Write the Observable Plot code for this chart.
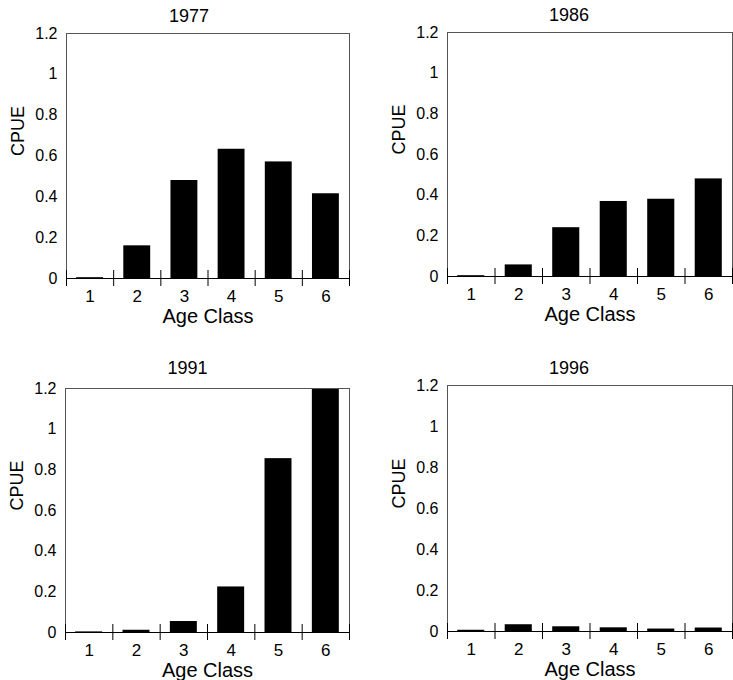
<!DOCTYPE html>
<html>
<head>
<meta charset="utf-8">
<script src="https://cdn.jsdelivr.net/npm/d3@7"></script>
<script src="https://cdn.jsdelivr.net/npm/@observablehq/plot@0.6"></script>
<style>
  body { margin: 0; background: #fff; }
  #chart { position: relative; width: 733px; height: 680px; font-family: "Liberation Sans", Arial, sans-serif; }
  #chart > .panel { position: absolute; }
</style>
</head>
<body>
<div id="chart"></div>
<script>
// ---- data ----
const ages = [1, 2, 3, 4, 5, 6];
const years = ["1977", "1986", "1991", "1996"];
const cpue1977 = [0.004, 0.16, 0.48, 0.633, 0.571, 0.415];
const cpue1986 = [0.004, 0.057, 0.24, 0.369, 0.38, 0.48];
const cpue1991 = [0.003, 0.011, 0.054, 0.224, 0.855, 1.195];
const cpue1996 = [0.006, 0.033, 0.023, 0.018, 0.012, 0.017];
const yTicks = [0, 0.2, 0.4, 0.6, 0.8, 1, 1.2];
const xLabel = "Age Class";
const yLabel = "CPUE";

// ---- layout (positions only) ----
const panels = [
  {year: years[0], values: cpue1977, left: 0,   top: 0,   width: 367, ml: 66, mr: 18, mt: 33, mb: 62, tdx: -19, tdy: -17},
  {year: years[1], values: cpue1986, left: 367, top: 0,   width: 366, ml: 80, mr: 1,  mt: 32, mb: 64, tdx: -21, tdy: -17},
  {year: years[2], values: cpue1991, left: 0,   top: 340, width: 367, ml: 65, mr: 18, mt: 48, mb: 48, tdx: -20, tdy: -20},
  {year: years[3], values: cpue1996, left: 367, top: 340, width: 366, ml: 80, mr: 1,  mt: 45, mb: 49, tdx: -21, tdy: -17}
];

const chart = document.getElementById("chart");
const font = '"Liberation Sans", Arial, sans-serif';

for (const p of panels) {
  const data = ages.map((a, i) => ({age: a, cpue: p.values[i]}));
  const innerW = p.width - p.ml - p.mr;
  const half = innerW / ages.length / 2;
  const svg = Plot.plot({
    width: p.width,
    height: 340,
    marginLeft: p.ml,
    marginRight: p.mr,
    marginTop: p.mt,
    marginBottom: p.mb,
    style: {fontFamily: font, fontSize: "16px", color: "#000", background: "transparent", overflow: "visible"},
    x: {domain: ages, paddingInner: 0.43, paddingOuter: 0.215, round: false, label: null},
    y: {domain: [0, 1.2], label: null},
    marks: [
      Plot.barY(data, {x: "age", y: "cpue", fill: "#000"}),
      Plot.frame({stroke: "#555", strokeWidth: 1}),
      Plot.ruleY([0], {stroke: "#000"}),
      Plot.ruleX(ages, {x: d => d, y1: 0, y2: 0, insetTop: -8, insetBottom: -8, dx: -half, stroke: "#000"}),
      Plot.ruleX([ages[ages.length - 1]], {x: d => d, y1: 0, y2: 0, insetTop: -8, insetBottom: -8, dx: half, stroke: "#000"}),
      Plot.axisX({tickSize: 0, tickPadding: 11, fontSize: 17, label: null}),
      Plot.axisY({ticks: yTicks, tickSize: 0, tickPadding: 9, fontSize: 16, tickFormat: d => String(d), label: null}),
      Plot.text([p.year], {text: d => d, frameAnchor: "top", lineAnchor: "middle", dx: p.tdx, dy: p.tdy, fontSize: 18}),
      Plot.text([xLabel], {text: d => d, frameAnchor: "bottom", lineAnchor: "middle", dy: 38, fontSize: 20}),
      Plot.text([yLabel], {text: d => d, frameAnchor: "left", lineAnchor: "middle", dx: -48, rotate: -90, fontSize: 18})
    ]
  });
  svg.classList.add("panel");
  svg.style.left = p.left + "px";
  svg.style.top = p.top + "px";
  chart.appendChild(svg);
}
</script>
</body>
</html>
